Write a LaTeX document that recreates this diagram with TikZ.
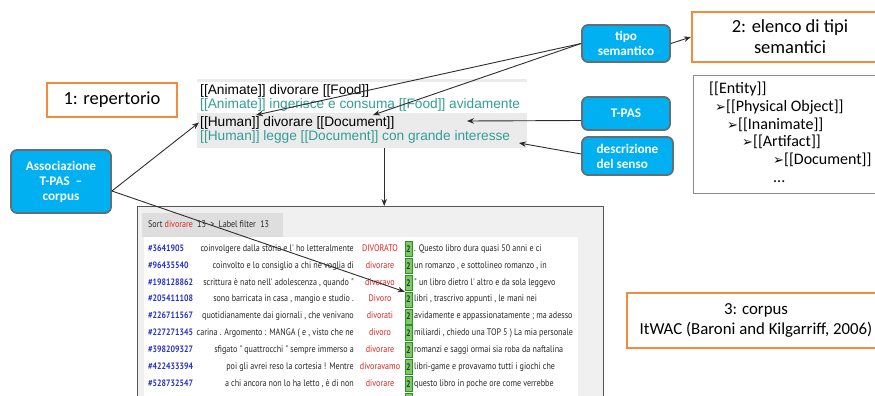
\documentclass[tikz,border=0pt]{standalone}
\usepackage{fontspec}
\usetikzlibrary{arrows.meta,calc}
\newfontfamily\carlito{Carlito}
\newfontfamily\arialf{Liberation Sans}
\newfontfamily\condf[FakeStretch=0.85]{PT Sans}
\newfontfamily\djv{DejaVu Sans}
\definecolor{cyanbox}{RGB}{0,176,240}
\definecolor{boxrim}{RGB}{95,112,120}
\definecolor{orangeb}{RGB}{240,140,60}
\definecolor{tealt}{RGB}{50,158,152}
\definecolor{panelgray}{RGB}{235,235,235}
\definecolor{linec}{RGB}{45,45,45}
\definecolor{idblue}{RGB}{40,50,200}
\definecolor{kwred}{RGB}{225,35,30}
\definecolor{gfill}{RGB}{120,205,95}
\definecolor{gdraw}{RGB}{50,140,50}
\definecolor{scrgray}{RGB}{240,240,240}
\definecolor{hdrgray}{RGB}{222,222,222}
\definecolor{framegray}{RGB}{85,85,85}
\definecolor{hiergray}{RGB}{140,140,140}
\newcommand\corpusrow[6]{%
  \node[idt, anchor=west] (id#1) at (148,#2) {\##3};
  \node[ctxt, anchor=east] (lc#1) at (354,#2) {#4};
  \node[kwt] (kw#1) at (380,#2) {#5};
  \node[gbox] (g#1) at (408.5,#2) {2};
  \node[ctxt, anchor=west] (rc#1) at (414,#2) {#6};
}
\begin{document}
\begin{tikzpicture}[x=1pt,y=-1pt,
  bluebox/.style={draw=boxrim, line width=1.8pt, fill=cyanbox, rounded corners=6pt,
    text=white, font=\carlito\bfseries\fontsize{13.2}{15}\selectfont, align=center, inner sep=0},
  orangebox/.style={draw=orangeb, line width=2.2pt, fill=white, align=center, inner sep=0,
    font=\carlito\fontsize{18.5}{21}\selectfont},
  arr/.style={draw=linec, line width=0.9pt, -{Stealth[length=7pt,width=5.5pt]}},
  reptext/.style={font=\arialf\fontsize{13.7}{15}\selectfont, inner sep=0, anchor=west,
    text height=10pt, text depth=3pt},
  hiert/.style={font=\carlito\fontsize{16}{18}\selectfont, inner sep=0, anchor=base west},
  ctxt/.style={font=\condf\fontsize{9.5}{10.5}\selectfont, inner sep=0, text height=6.8pt, text depth=2pt, text=black!85},
  idt/.style={ctxt, font=\condf\bfseries\fontsize{9.3}{10.5}\selectfont, text=idblue},
  kwt/.style={ctxt, text=kwred},
  gbox/.style={draw=gdraw, fill=gfill, line width=0.6pt, minimum width=7, minimum height=15,
    inner sep=0, font=\condf\bfseries\fontsize{9.5}{10.5}\selectfont, text=black!80}
]
\useasboundingbox (0,0) rectangle (875,396);
\clip (0,0) rectangle (875,396);

% ---------- repertorio panel ----------
\node[fill=panelgray, minimum width=330, minimum height=69, anchor=north west, inner sep=0] (rep) at (197,79) {};
\fill[white] (197,82) rectangle (527,113);
\node[reptext] (r1) at (200,91) {[[Animate]] divorare [[Food]]};
\node[reptext, text=tealt] (r2) at (200,104.5) {[[Animate]] ingerisce e consuma [[Food]] avidamente};
\node[reptext] (r3) at (200,122.5) {[[Human]] divorare [[Document]]};
\node[reptext, text=tealt] (r4) at (200,137) {[[Human]] legge [[Document]] con grande interesse};
\coordinate (hum) at (256,115);
\coordinate (doc) at (373,115);
\coordinate (tpt) at (467,121);
\coordinate (dst) at (519,143);

% ---------- corpus screenshot ----------
\node[draw=framegray, fill=scrgray, line width=1.3pt, minimum width=466, minimum height=240,
  anchor=north west, inner sep=0] (corpus) at (137,206) {};
\fill[white] (144,237) rectangle (578,400);
\node[fill=hdrgray, minimum width=141, minimum height=24, anchor=north west, inner sep=0] (hdr) at (142,213) {};
\node[ctxt, anchor=west] (hdrtext) at (148,225) {Sort \textcolor{kwred}{divorare}\ \ 13\ \ >\ \ Label filter\ \ 13};

\corpusrow{1}{249}{3641905}{coinvolgere dalla storia e l' ho letteralmente}{DIVORATO}{. Questo libro dura quasi 50 anni e ci}
\corpusrow{2}{265.85}{96435540}{coinvolto e lo consiglio a chi ne voglia di}{divorare}{un romanzo , e sottolineo romanzo , in}
\corpusrow{3}{282.7}{198128862}{scrittura è nato nell' adolescenza , quando "}{divoravo}{" un libro dietro l' altro e da sola leggevo}
\corpusrow{4}{299.55}{205411108}{sono barricata in casa , mangio e studio .}{Divoro}{libri , trascrivo appunti , le mani nei}
\corpusrow{5}{316.4}{226711567}{quotidianamente dai giornali , che venivano}{divorati}{avidamente e appassionatamente ; ma adesso}
\corpusrow{6}{333.25}{227271345}{carina . Argomento : MANGA ( e , visto che ne}{divoro}{miliardi , chiedo una TOP 5 ) La mia personale}
\corpusrow{7}{350.1}{398209327}{sfigato " quattrocchi " sempre immerso a}{divorare}{romanzi e saggi ormai sia roba da naftalina}
\corpusrow{8}{366.95}{422433394}{poi gli avrei reso la cortesia ! Mentre}{divoravamo}{libri-game e provavamo tutti i giochi che}
\corpusrow{9}{383.8}{528732547}{a chi ancora non lo ha letto , è di non}{divorare}{questo libro in poche ore come verrebbe}
\node[gbox] (g10) at (408.5,400.65) {};

% ---------- blue boxes ----------
\node[bluebox, minimum width=100, minimum height=63] (assoc) at (61,181.5) {Associazione\\T-PAS\ \ –\\corpus};
\node[bluebox, minimum width=88, minimum height=37] (tipo) at (626,43.5) {tipo\\semantico};
\node[bluebox, minimum width=88, minimum height=33] (tpas) at (626,113.5) {T-PAS};
\node[bluebox, minimum width=91, minimum height=38, align=left] (desc) at (627.5,156) {descrizione\\del senso};

% ---------- orange boxes ----------
\node[orangebox, minimum width=130, minimum height=34] (rep1) at (112,100) {1: repertorio};
\node[orangebox, minimum width=196, minimum height=50] (elenco) at (790,37) {2: elenco di tipi\\semantici};
\node[orangebox, minimum width=258, minimum height=55, font=\carlito\fontsize{16.8}{20}\selectfont] (corp3) at (756,320.5) {3: corpus\\ItWAC (Baroni and Kilgarriff, 2006)};

% ---------- hierarchy ----------
\node[draw=hiergray, line width=1.2pt, fill=white, minimum width=197, minimum height=118,
  anchor=north west, inner sep=0] (hier) at (693,75) {};
\node[hiert] (h1) at (709,93.5) {[[Entity]]};
\node[hiert] (h2) at (715,111.5) {{\djv\fontsize{13}{15}\selectfont ➢}[[Physical Object]]};
\node[hiert] (h3) at (727,129.5) {{\djv\fontsize{13}{15}\selectfont ➢}[[Inanimate]]};
\node[hiert] (h4) at (742,146.5) {{\djv\fontsize{13}{15}\selectfont ➢}[[Artifact]]};
\node[hiert] (h5) at (773,164.5) {{\djv\fontsize{13}{15}\selectfont ➢}[[Document]]};
\node[hiert] (h6) at (773,182.5) {...};

% ---------- connectors ----------
\draw[arr] ([yshift=-9.5pt]assoc.east) -- ([xshift=-1pt]r3.west);
\draw[arr] ([yshift=-9.5pt]assoc.east) -- (g4.north west);
\draw[arr] (tipo.west) -- (hum);
\draw[arr] (tipo.west) -- (doc);
\draw[arr] ([yshift=-7pt]tpas.west) -- (tpt);
\draw[arr] ([yshift=2pt]desc.west) -- (dst);
\draw[arr] (tipo.east) -- (elenco.west);
\draw[arr] ([xshift=22pt]rep.south) -- ([xshift=22pt]rep.south |- corpus.north);
\end{tikzpicture}
\end{document}
